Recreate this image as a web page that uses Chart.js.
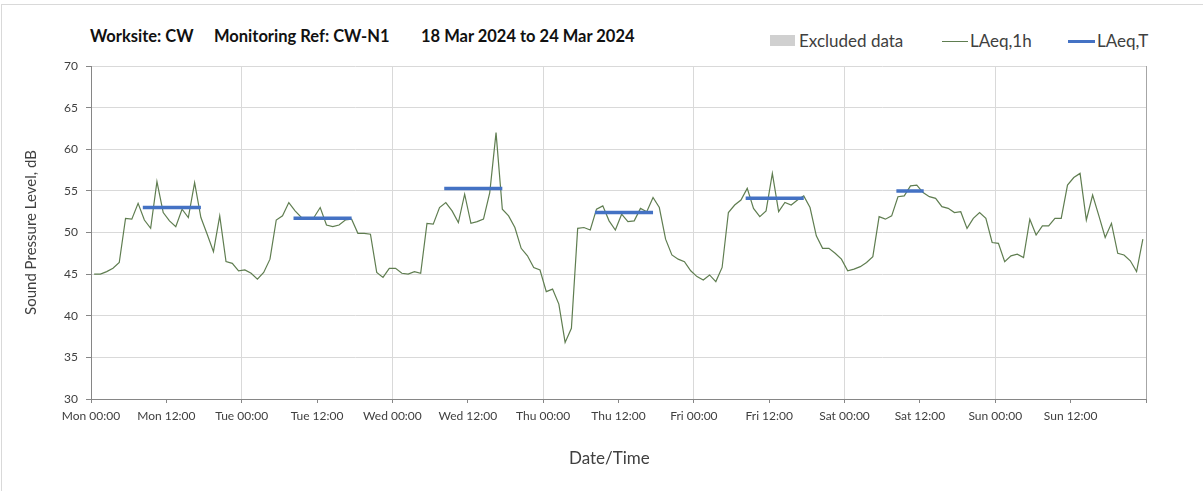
<!DOCTYPE html>
<html lang="en">

<head>
    <meta charset="UTF-8">
    <title>CW-N1 noise monitoring</title>
    <script src="https://cdn.jsdelivr.net/npm/chart.js"></script>
    <style>
        body { margin: 0; overflow: hidden; background: #fff; font-family: Lato, "Open Sans", sans-serif; }
        #wrap { position: relative; width: 1203px; height: 491px; }
        #frame { position: absolute; left: 1px; top: 4px; width: 1300px; height: 600px; border: 1px solid #d9d9d9; }
        #chartbox { position: absolute; left: 0; top: 0; width: 1203px; height: 491px; }
        .ttl { position: absolute; top: 28px; font-size: 16.5px; font-weight: bold; color: #111; line-height: 17px; white-space: nowrap; }
        .leg { position: absolute; top: 31px; font-size: 17px; color: #404040; line-height: 20px; white-space: nowrap; }
        .swatch { position: absolute; }
        #xtitle { position: absolute; left: 569px; top: 448px; font-size: 17px; color: #404040; line-height: 20px; white-space: nowrap; }
    </style>
</head>

<body>
    <div id="wrap">
        <div id="frame"></div>
        <div class="ttl" style="left:90px">Worksite: CW</div>
        <div class="ttl" style="left:214px">Monitoring Ref: CW-N1</div>
        <div class="ttl" style="left:421px">18 Mar 2024 to 24 Mar 2024</div>

        <div class="swatch" style="left:770px;top:35px;width:25px;height:11px;background:#d0d0d0"></div>
        <div class="leg" style="left:799px">Excluded data</div>
        <div class="swatch" style="left:942px;top:41px;width:26px;height:1px;background:#5f7d50"></div>
        <div class="leg" style="left:970px">LAeq,1h</div>
        <div class="swatch" style="left:1068px;top:40px;width:27px;height:3px;background:#4472c4"></div>
        <div class="leg" style="left:1097px">LAeq,T</div>

        <div id="chartbox"><canvas id="myChart"></canvas></div>
        <div id="xtitle">Date/Time</div>
    </div>

    <script>
        // hourly LAeq,1h (dB), one array per day, 00:00 .. 23:00
        const mon = [45.0, 45.0, 45.3, 45.7, 46.4, 51.7, 51.6, 53.5, 51.5, 50.5, 56.1, 52.4, 51.4, 50.7, 52.8, 51.8, 56.0, 51.8, 49.8, 47.7, 52.0, 46.5, 46.3, 45.4];
        const tue = [45.5, 45.1, 44.4, 45.2, 46.8, 51.5, 52.0, 53.6, 52.6, 51.8, 51.8, 51.8, 53.0, 50.9, 50.7, 50.9, 51.5, 51.6, 49.9, 49.9, 49.8, 45.2, 44.6, 45.7];
        const wed = [45.7, 45.1, 45.0, 45.3, 45.1, 51.1, 51.0, 53.0, 53.6, 52.6, 51.2, 54.6, 51.1, 51.3, 51.6, 54.8, 62.0, 52.8, 52.0, 50.6, 48.1, 47.2, 45.8, 45.5];
        const thu = [42.9, 43.2, 41.4, 36.8, 38.5, 50.5, 50.6, 50.3, 52.8, 53.2, 51.4, 50.3, 52.2, 51.3, 51.4, 52.9, 52.5, 54.2, 53.0, 49.2, 47.3, 46.8, 46.5, 45.4];
        const fri = [44.7, 44.3, 44.9, 44.1, 45.8, 52.4, 53.3, 53.9, 55.3, 52.9, 51.9, 52.6, 57.1, 52.5, 53.6, 53.3, 53.9, 54.4, 53.0, 49.6, 48.1, 48.1, 47.5, 46.8];
        const sat = [45.4, 45.6, 45.9, 46.4, 47.1, 51.9, 51.6, 52.0, 54.3, 54.4, 55.6, 55.7, 54.8, 54.3, 54.1, 53.1, 52.9, 52.4, 52.5, 50.5, 51.7, 52.4, 51.7, 48.8];
        const sun = [48.7, 46.5, 47.2, 47.4, 47.0, 51.6, 49.7, 50.8, 50.8, 51.7, 51.7, 55.7, 56.6, 57.1, 51.5, 54.5, 52.0, 49.4, 51.1, 47.5, 47.3, 46.6, 45.3, 49.2];

        // LAeq,T per day (Mon..Sat) and the period it covers, hours of the day
        const laeqT = [53.0, 51.7, 55.3, 52.4, 54.1, 55.0];
        const tStart = [8.25, 8.25, 8.25, 8.25, 8.25, 8.25];
        const tEnd = [17.5, 17.5, 17.5, 17.5, 17.5, 12.6];

        const xTickLabels = ['Mon 00:00', 'Mon 12:00', 'Tue 00:00', 'Tue 12:00', 'Wed 00:00', 'Wed 12:00', 'Thu 00:00',
            'Thu 12:00', 'Fri 00:00', 'Fri 12:00', 'Sat 00:00', 'Sat 12:00', 'Sun 00:00', 'Sun 12:00'];

        const hourly = [mon, tue, wed, thu, fri, sat, sun].flat();
        const lineData = hourly.map((v, i) => ({ x: i + 0.5, y: v }));

        const tData = [];
        laeqT.forEach(function (v, d) {
            tData.push({ x: d * 24 + tStart[d], y: v });
            tData.push({ x: d * 24 + tEnd[d], y: v });
            tData.push({ x: d * 24 + tEnd[d] + 0.01, y: null });
        });

        const ctx = document.getElementById('myChart');
        const mychart = new Chart(ctx, {
            type: 'line',
            data: {
                datasets: [{
                    label: 'LAeq,T',
                    data: tData,
                    borderColor: '#4472c4',
                    borderWidth: 3.5,
                    pointRadius: 0,
                    spanGaps: false,
                    borderCapStyle: 'butt'
                }, {
                    label: 'LAeq,1h',
                    data: lineData,
                    borderColor: '#5f7d50',
                    borderWidth: 1.2,
                    pointRadius: 0,
                    tension: 0
                }]
            },
            options: {
                responsive: true,
                maintainAspectRatio: false,
                animation: false,
                layout: { padding: { top: 66, right: 57, left: 0, bottom: 0 } },
                plugins: { legend: { display: false }, tooltip: { enabled: false } },
                scales: {
                    x: {
                        type: 'linear',
                        min: 0,
                        max: 168,
                        afterFit: function (scale) { scale.height = 92; },
                        afterBuildTicks: function (scale) {
                            scale.ticks = [];
                            for (let v = 0; v <= 168; v += 12) scale.ticks.push({ value: v });
                        },
                        ticks: {
                            autoSkip: false,
                            maxRotation: 0,
                            padding: 6,
                            color: '#404040',
                            font: { family: 'Lato', size: 12 },
                            callback: function (v) { return xTickLabels[v / 12] || ''; }
                        },
                        grid: {
                            color: function (c) {
                                if (c.tick.value === 168) return '#a6a6a6';
                                return c.tick.value % 24 === 0 ? '#d9d9d9' : 'rgba(0,0,0,0)';
                            },
                            tickColor: '#868686',
                            tickLength: 4
                        },
                        border: { color: '#868686' }
                    },
                    y: {
                        min: 30,
                        max: 70,
                        afterFit: function (scale) { scale.width = 91; },
                        ticks: {
                            stepSize: 5,
                            padding: 8,
                            color: '#404040',
                            font: { family: 'Lato', size: 12 }
                        },
                        grid: { color: '#d9d9d9', tickColor: '#868686', tickLength: 5 },
                        border: { color: '#868686' },
                        title: {
                            display: true,
                            text: 'Sound Pressure Level, dB',
                            color: '#404040',
                            font: { family: 'Lato', size: 15 },
                            padding: { top: 22, bottom: 0 }
                        }
                    }
                }
            }
        });
    </script>
</body>

</html>
